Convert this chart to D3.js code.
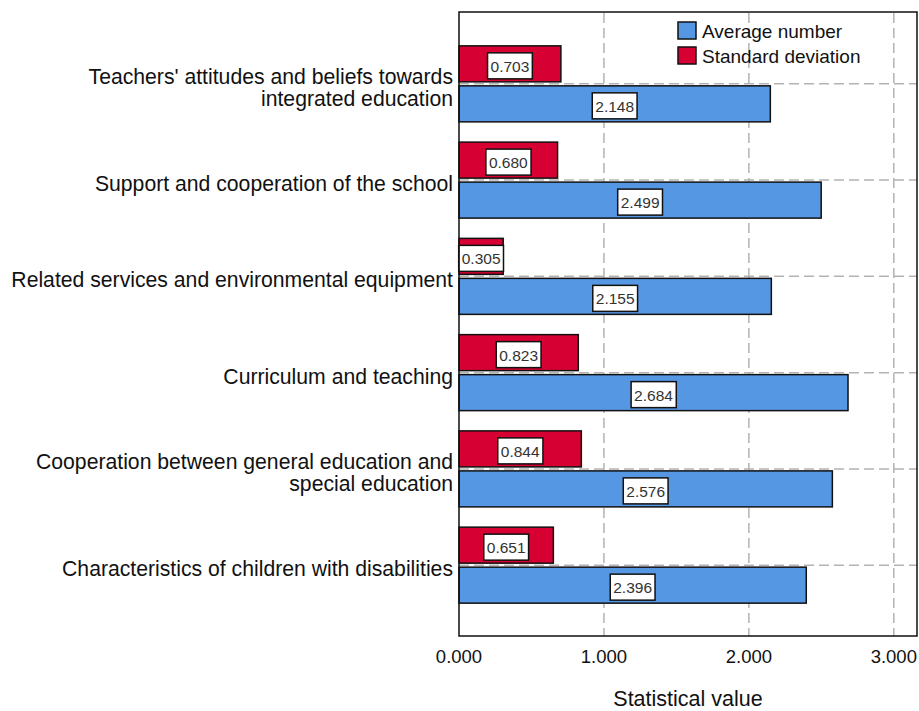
<!DOCTYPE html>
<head>
<meta charset="utf-8">
<script src="https://d3js.org/d3.v7.min.js"></script>
<style>
	body{ margin:0; background:#fff; }
	text{ font-family: "Liberation Sans", Arial, sans-serif; }
</style>
</head>
<body>
<div id="chart"></div>
<script>
	// categories, top to bottom
	var categories = [
		"Teachers' attitudes and beliefs towards|integrated education",
		"Support and cooperation of the school",
		"Related services and environmental equipment",
		"Curriculum and teaching",
		"Cooperation between general education and|special education",
		"Characteristics of children with disabilities"
	];
	var averageNumber = [2.148, 2.499, 2.155, 2.684, 2.576, 2.396];
	var standardDeviation = [0.703, 0.680, 0.305, 0.823, 0.844, 0.651];
	var seriesNames = ["Standard deviation", "Average number"];
	var xTicks = [0, 1, 2, 3];

	var width = 919, height = 711;
	var plotLeft = 459, plotRight = 917, plotTop = 13, plotBottom = 636;

	var colors = d3.scaleOrdinal()
		.domain(seriesNames)
		.range(["#d70033", "#5597e3"]);

	var svg = d3.select("#chart").append("svg")
		.attr("width", width)
		.attr("height", height);

	var x = d3.scaleLinear().domain([0, 3.16]).range([plotLeft, plotRight]);
	var y = d3.scaleBand().domain(d3.range(categories.length))
		.range([plotTop, plotBottom]).paddingInner(0).paddingOuter(0.236);
	// red bar above, blue bar below the centre line
	var inner = d3.scaleBand().domain(seriesNames).range([-38, 38]).paddingInner(0.1);

	var rows = categories.map(function(c, i){
		return {cat: c, i: i, values: [
			{name: "Standard deviation", v: standardDeviation[i]},
			{name: "Average number", v: averageNumber[i]}
		]};
	});

	function cy(i){ return y(i) + y.bandwidth() / 2; }

	//grid
	var grid = svg.append("g")
		.attr("stroke", "#b3b3b3")
		.attr("stroke-width", 1.5)
		.attr("stroke-dasharray", "10,5");
	grid.selectAll(".vg").data(xTicks.filter(function(d){ return d > 0; }))
		.enter().append("line")
		.attr("x1", function(d){ return x(d); })
		.attr("x2", function(d){ return x(d); })
		.attr("y1", plotTop).attr("y2", plotBottom);
	grid.selectAll(".hg").data(rows)
		.enter().append("line")
		.attr("x1", plotLeft).attr("x2", plotRight)
		.attr("y1", function(d){ return cy(d.i); })
		.attr("y2", function(d){ return cy(d.i); });

	//bars
	var groups = svg.selectAll(".row").data(rows).enter().append("g")
		.attr("class", "row")
		.attr("transform", function(d){ return "translate(0," + cy(d.i) + ")"; });

	groups.selectAll("rect").data(function(d){ return d.values; })
		.enter().append("rect")
		.attr("x", x(0))
		.attr("y", function(d){ return inner(d.name); })
		.attr("width", function(d){ return x(d.v) - x(0); })
		.attr("height", inner.bandwidth())
		.attr("fill", function(d){ return colors(d.name); })
		.attr("stroke", "#111")
		.attr("stroke-width", 1.5);

	// value labels in white boxes
	var labels = groups.selectAll(".lbl").data(function(d){ return d.values; })
		.enter().append("g")
		.attr("class", "lbl")
		.attr("transform", function(d){
			return "translate(" + x(d.v / 2) + "," + (inner(d.name) + inner.bandwidth() / 2 + 2) + ")";
		});
	labels.append("text")
		.attr("text-anchor", "middle")
		.attr("y", 6)
		.attr("font-size", 15.5)
		.attr("fill", "#333")
		.text(function(d){ return d3.format(".3f")(d.v); });
	labels.each(function(){
		var g = d3.select(this);
		var bb = g.select("text").node().getBBox();
		g.insert("rect", "text")
			.attr("x", bb.x - 3).attr("y", -13)
			.attr("width", bb.width + 6).attr("height", 26)
			.attr("fill", "#fff")
			.attr("stroke", "#111")
			.attr("stroke-width", 1.5);
	});

	//frame
	svg.append("rect")
		.attr("x", plotLeft).attr("y", plotTop - 1)
		.attr("width", plotRight - plotLeft).attr("height", plotBottom - plotTop + 1)
		.attr("fill", "none")
		.attr("stroke", "#111")
		.attr("stroke-width", 1.5);

	//category labels
	var catText = svg.selectAll(".cat").data(rows).enter().append("text")
		.attr("class", "cat")
		.attr("text-anchor", "end")
		.attr("font-size", 21.2)
		.attr("fill", "#111");
	catText.each(function(d){
		var lines = d.cat.split("|");
		var base = cy(d.i) + 11 - (lines.length - 1) * 11;
		d3.select(this).selectAll("tspan").data(lines).enter().append("tspan")
			.attr("x", 453)
			.attr("y", function(l, k){ return base + k * 22; })
			.text(function(l){ return l; });
	});

	//x axis tick labels
	svg.selectAll(".tick").data(xTicks).enter().append("text")
		.attr("class", "tick")
		.attr("x", function(d){ return x(d); })
		.attr("y", 663)
		.attr("text-anchor", "middle")
		.attr("font-size", 18.5)
		.attr("fill", "#111")
		.text(function(d){ return d3.format(".3f")(d); });

	svg.append("text")
		.attr("x", (plotLeft + plotRight) / 2)
		.attr("y", 706)
		.attr("text-anchor", "middle")
		.attr("font-size", 21.5)
		.attr("fill", "#111")
		.text("Statistical value");

	//legend
	var legend = svg.selectAll(".legend").data(["Average number", "Standard deviation"])
		.enter().append("g")
		.attr("class", "legend")
		.attr("transform", function(d, i){ return "translate(678," + (22 + i * 25) + ")"; });
	legend.append("rect")
		.attr("width", 18).attr("height", 17)
		.attr("fill", function(d){ return colors(d); })
		.attr("stroke", "#111")
		.attr("stroke-width", 1.5);
	legend.append("text")
		.attr("x", 24).attr("y", 16)
		.attr("font-size", 19)
		.attr("fill", "#111")
		.text(function(d){ return d; });
</script>
</body>
